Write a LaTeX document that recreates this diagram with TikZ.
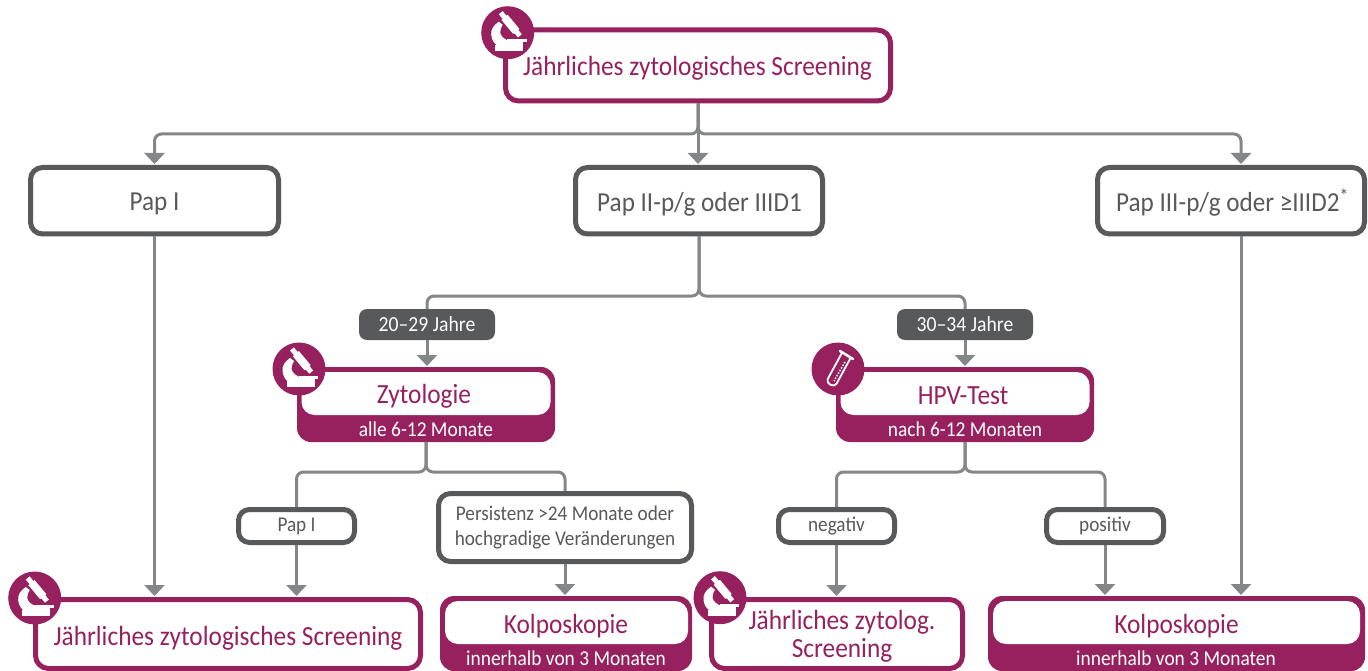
\documentclass[tikz,border=0pt]{standalone}
\usepackage{fontspec}
\setmainfont[FakeStretch=0.915]{Carlito}
\usetikzlibrary{arrows.meta,calc}
\definecolor{mag}{HTML}{97215E}
\definecolor{dg}{HTML}{58595B}
\definecolor{lg}{HTML}{858688}
\tikzset{
  x=1pt,y=-1pt,
  conn/.style={draw=lg,line width=3pt,rounded corners=7pt},
  arr/.style={draw=lg,line width=3pt,rounded corners=7pt,shorten >=1pt,-{Triangle[width=20pt,length=11pt,fill=lg]}},
  grayb/.style={draw=dg,line width=5pt,rounded corners=12pt,fill=white,text=dg,align=center,inner sep=0pt,outer sep=2.5pt,anchor=north west},
  agebox/.style={fill=dg,rounded corners=8pt,text=white,font=\fontsize{21.5}{24}\selectfont,inner sep=0pt,outer sep=0pt,anchor=north west,minimum width=136pt,minimum height=31pt},
  magb/.style={draw=mag,line width=5pt,rounded corners=13pt,fill=white,inner sep=0pt,outer sep=2.5pt,anchor=north west},
  magfill/.style={fill=mag,rounded corners=14pt,inner sep=0pt,outer sep=0pt,anchor=north west,minimum height=75pt},
  whitetop/.style={fill=white,rounded corners=13pt,inner sep=0pt,outer sep=0pt,anchor=north west,minimum height=43pt},
  magtxt/.style={text=mag,align=center,inner sep=0pt,font=\fontsize{27.7}{28}\selectfont},
  graytxt/.style={text=dg,inner sep=0pt,font=\fontsize{27.5}{28}\selectfont},
  subt/.style={text=white,font=\fontsize{21.2}{24}\selectfont,inner sep=0pt},
  small/.style={font=\fontsize{21}{25}\selectfont,rounded corners=11pt,minimum width=116pt,minimum height=33pt},
  iconc/.style={circle,fill=mag,minimum size=53pt,inner sep=0pt},
}
\newcommand{\microscope}[1]{%
  \begin{scope}[shift={(#1)}]
    \fill[white] (-12.5,12) rectangle (15.5,18);
    \fill[white] (-0.5,6.5) rectangle (19,9.5);
    \fill[white] (1,9) rectangle (15.5,12.5);
    \fill[white] (-9,-11) .. controls (-14.5,-7) and (-17,-3) .. (-16.5,2)
       .. controls (-16,7) and (-14,10) .. (-11,12.5) -- (3,12.5)
       -- (3,8.5) .. controls (-3,7.5) and (-7,3.5) .. (-7.5,0)
       .. controls (-7.5,-3) and (-6.5,-6) .. (-5,-8) -- cycle;
    \fill[white] (-5.1,-21.6) -- (-1.25,-17) -- (-0.08,-17.9) -- (11.44,-4.08)
       -- (10.9,-2.35) -- (14.1,1.5) -- (10.3,4.7) -- (7.1,0.85) -- (5.28,1.04)
       -- (-6.24,-12.8) -- (-5.07,-13.8) -- (-8.9,-18.4) -- cycle;
  \end{scope}}
\newcommand{\testtube}[1]{%
  \begin{scope}[shift={(#1)}]
    \draw[white,line width=2.5pt,line cap=round] (2,-18) -- (15,-10);
    \draw[white,line width=1.8pt,line join=round] (4.1,-16.4) -- (-10.3,10)
       .. controls (-12.7,14.4) and (-3.9,19.2) .. (-1.5,14.8) -- (12.9,-11.6);
    \draw[white,line width=1.5pt,dash pattern=on 1.5pt off 1.5pt] (7,-7) -- (-4,12);
  \end{scope}}
\begin{document}
\begin{tikzpicture}
\useasboundingbox (0,0) rectangle (1368,671);
\fill[white] (0,0) rectangle (1368,671);
\coordinate (busA) at (697,134);
\coordinate (busB) at (697,296);
\coordinate (busC) at (426,472);
\coordinate (busD) at (965,472);
\coordinate (pcin) at (1241,165);
\coordinate (pcout) at (1241,236);

% boxes
\node[magb,minimum width=385pt,minimum height=71pt] (top) at (503,27.5) {};
\node[magtxt] (toptxt) at (697.5,68.5) {Jährliches zytologisches Screening};

\node[grayb,minimum width=248pt,minimum height=66.5pt] (pa) at (28,165) {};
\node[graytxt] (patxt) at (154.5,204) {Pap I};
\node[grayb,minimum width=247pt,minimum height=66.5pt] (pb) at (573,165) {};
\node[graytxt] (pbtxt) at (699.5,204) {Pap II-p/g oder IIID1};
\node[grayb,minimum width=267pt,minimum height=66.5pt] (pc) at (1095,165) {};
\node[graytxt] (pctxt) at (1232.5,203) {Pap III-p/g oder ≥IIID2\textsuperscript{*}};

\node[agebox] (ya) at (359,309) {20–29 Jahre};
\node[agebox] (yb) at (897,309) {30–34 Jahre};

% two-tone boxes
\node[magfill,minimum width=258pt] (zy) at (297,367) {};
\node[whitetop,minimum width=249pt] (zyw) at (301.5,372) {};
\node[magtxt] (zyt) at (424,396) {Zytologie};
\node[subt] (zys) at (426,429) {alle 6-12 Monate};
\node[magfill,minimum width=258pt] (hp) at (836,367) {};
\node[whitetop,minimum width=249pt] (hpw) at (840.5,372) {};
\node[magtxt] (hpt) at (963,396) {HPV-Test};
\node[subt] (hps) at (965,429) {nach 6-12 Monaten};
\node[magfill,minimum width=252pt] (ka) at (440,596) {};
\node[whitetop,minimum width=243pt] (kaw) at (445,601) {};
\node[magtxt] (kat) at (566,626) {Kolposkopie};
\node[subt] (kas) at (566,658.5) {innerhalb von 3 Monaten};
\node[magfill,minimum width=377pt] (kb) at (988,596) {};
\node[whitetop,minimum width=367pt] (kbw) at (993,601) {};
\node[magtxt] (kbt) at (1176.5,626) {Kolposkopie};
\node[subt] (kbs) at (1176,658.5) {innerhalb von 3 Monaten};

% small grey boxes
\node[grayb,small] (la) at (236,507) {Pap I};
\node[grayb,small,minimum width=253pt,minimum height=68pt,rounded corners=12pt] (lb) at (436,491) {Persistenz >24 Monate oder\\hochgradige Veränderungen};
\node[grayb,small] (lc) at (776,507) {negativ};
\node[grayb,small,minimum width=117pt] (ld) at (1044,507) {positiv};

% bottom screening boxes
\node[magb,minimum width=385pt,minimum height=69pt] (sa) at (33,597) {};
\node[magtxt] (satxt) at (228,638) {Jährliches zytologisches Screening};
\node[magb,minimum width=251pt,minimum height=69pt] (sb) at (709,597) {};
\node[magtxt] (sbtxt) at (842,636) {Jährliches zytolog.\\Screening};

% connectors
\draw[arr] (top.south) |- (pa.north |- busA) -- (pa.north);
\draw[arr] (top.south) |- (pcin |- busA) -- (pcin);
\draw[arr] (top.south) -- (top.south |- pb.north);
\draw[conn] (pb.south) |- (ya.north |- busB) -- (ya.north);
\draw[conn] (pb.south) |- (yb.north |- busB) -- (yb.north);
\draw[arr] (ya.south) -- (ya.south |- zy.north);
\draw[arr] (yb.south) -- (yb.south |- hp.north);
\draw[conn] (zy.south) |- (la.north |- busC) -- (la.north);
\draw[conn] (zy.south) |- (lb.north |- busC) -- (lb.north);
\draw[conn] (hp.south) |- (lc.north |- busD) -- (lc.north);
\draw[conn] (hp.south) |- (ld.north |- busD) -- (ld.north);
\draw[arr] (pa.south) -- (pa.south |- sa.north);
\draw[arr] (la.south) -- (la.south |- sa.north);
\draw[arr] (lb.south) -- (lb.south |- ka.north);
\draw[arr] (lc.south) -- (lc.south |- sb.north);
\draw[arr] (ld.south) -- (ld.south |- kb.north);
\draw[arr] (pcout) -- (pcout |- kb.north);

% icons
\node[iconc] (ia) at (507.7,32.7) {}; \microscope{507.7,32.7}
\node[iconc] (ib) at (299,369) {}; \microscope{299,369}
\node[iconc] (ic) at (838,369) {}; \testtube{838,369}
\node[iconc] (id) at (34.7,598) {}; \microscope{34.7,598}
\node[iconc] (ie) at (720,597.7) {}; \microscope{720,597.7}
\end{tikzpicture}
\end{document}
